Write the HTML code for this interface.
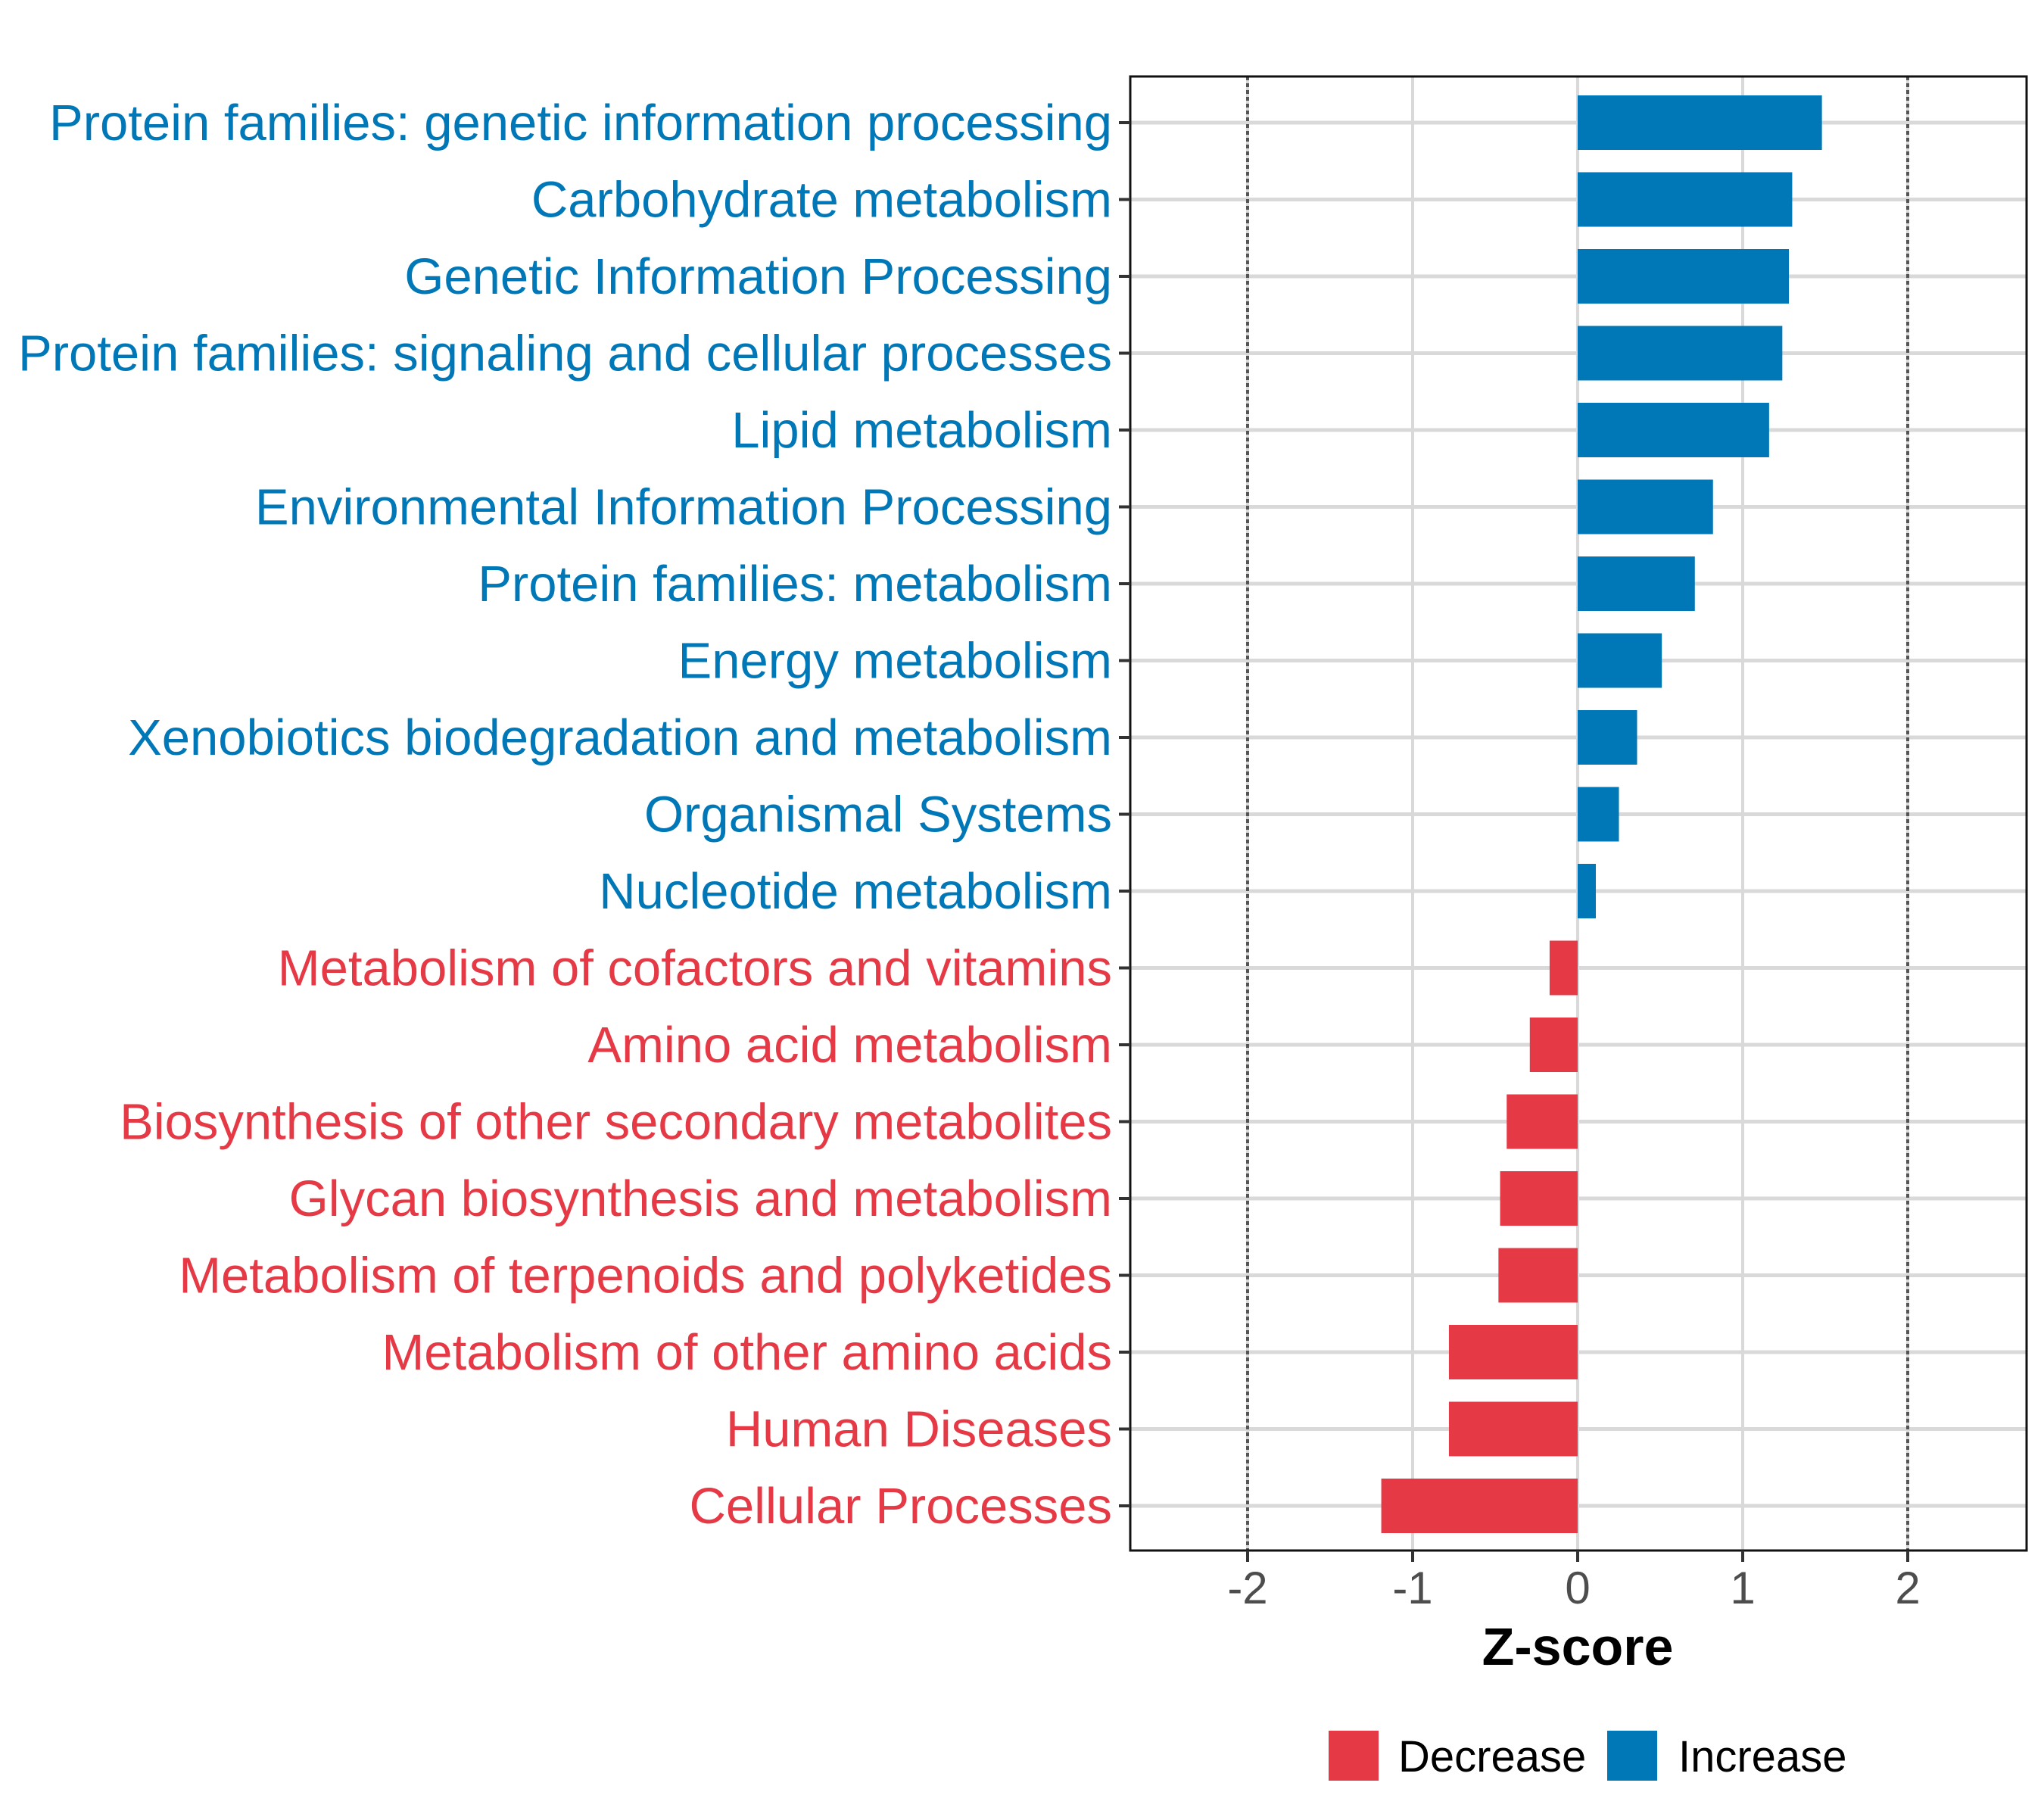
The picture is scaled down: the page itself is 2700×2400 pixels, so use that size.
<!DOCTYPE html>
<html><head><meta charset="utf-8"><style>
html,body{margin:0;padding:0;background:#fff;}
svg{display:block;font-family:"Liberation Sans",Arial,sans-serif;}
</style></head><body>
<svg id="chart" width="2700" height="2400" viewBox="0 0 2700 2400" xmlns="http://www.w3.org/2000/svg"></svg>
<script>
const categories = ["Protein families: genetic information processing","Carbohydrate metabolism","Genetic Information Processing","Protein families: signaling and cellular processes","Lipid metabolism","Environmental Information Processing","Protein families: metabolism","Energy metabolism","Xenobiotics biodegradation and metabolism","Organismal Systems","Nucleotide metabolism","Metabolism of cofactors and vitamins","Amino acid metabolism","Biosynthesis of other secondary metabolites","Glycan biosynthesis and metabolism","Metabolism of terpenoids and polyketides","Metabolism of other amino acids","Human Diseases","Cellular Processes"];
const zscores = [1.48,1.30,1.28,1.24,1.16,0.82,0.71,0.51,0.36,0.25,0.11,-0.17,-0.29,-0.43,-0.47,-0.48,-0.78,-0.78,-1.19];
const xTicks = [-2,-1,0,1,2];
const xTickLabels = ["-2","-1","0","1","2"];
const refLines = [-2,2];
const legendLabels = ["Decrease","Increase"];

const NS="http://www.w3.org/2000/svg";
const svg=document.getElementById('chart');
const BLUE="#0077b6", RED="#e63946";
const L=1493,R=2677,T=101,B=2048;
const x0=2084, unit=218;
const xs=v=>x0+v*unit;
const rowY=i=>162+i*101.5;
function mk(tag,attrs,parent){const e=document.createElementNS(NS,tag);for(const k in attrs)e.setAttribute(k,attrs[k]);(parent||svg).appendChild(e);return e;}

const grid=mk('g',{});


xTicks.forEach(v=>{const l=mk('line',{x1:xs(v),x2:xs(v),y1:T,y2:B,stroke:'#d9d9d9','stroke-width':4},grid);

});
categories.forEach((c,i)=>{const l=mk('line',{x1:L,x2:R,y1:rowY(i),y2:rowY(i),stroke:'#d9d9d9','stroke-width':5},grid);

});

refLines.forEach(v=>{const l=mk('line',{x1:xs(v),x2:xs(v),y1:T,y2:B,stroke:'#555','stroke-width':4,'stroke-dasharray':'5 4'});

});

const bh=72;
zscores.forEach((v,i)=>{
  const xa=Math.min(xs(0),xs(v)), w=Math.abs(xs(v)-xs(0));
  const r=mk('rect',{x:xa,y:rowY(i)-bh/2,width:w,height:bh,fill:v>=0?BLUE:RED});
  
  
});

const frame=mk('rect',{x:L,y:T,width:R-L,height:B-T,fill:'none',stroke:'#111','stroke-width':3});



categories.forEach((c,i)=>{
  const tk=mk('line',{x1:L-15,x2:L,y1:rowY(i),y2:rowY(i),stroke:'#333','stroke-width':4});
  
  
  const t=mk('text',{x:1469,y:rowY(i)+23,'text-anchor':'end','font-size':67,fill:zscores[i]>=0?BLUE:RED});
  t.textContent=c;
  
  
});

xTicks.forEach((v,i)=>{
  const tk=mk('line',{x1:xs(v),x2:xs(v),y1:B,y2:B+15,stroke:'#333','stroke-width':4});
  
  
  const t=mk('text',{x:xs(v),y:B+70,'text-anchor':'middle','font-size':60,fill:'#4d4d4d'});
  t.textContent=xTickLabels[i];
  
  
});

const xt=mk('text',{x:xs(0),y:2199,'text-anchor':'middle','font-size':70,'font-weight':'bold',fill:'#000'});
xt.textContent='Z-score';



const lg=[[1755,RED,1847],[2123,BLUE,2217]];
legendLabels.forEach((lab,i)=>{
  const k=mk('rect',{x:lg[i][0],y:2286,width:66,height:66,fill:lg[i][1]});
  
  
  const t=mk('text',{x:lg[i][2],y:2340,'font-size':58,fill:'#000'});
  t.textContent=lab;
  
  
});
</script>
</body></html>
